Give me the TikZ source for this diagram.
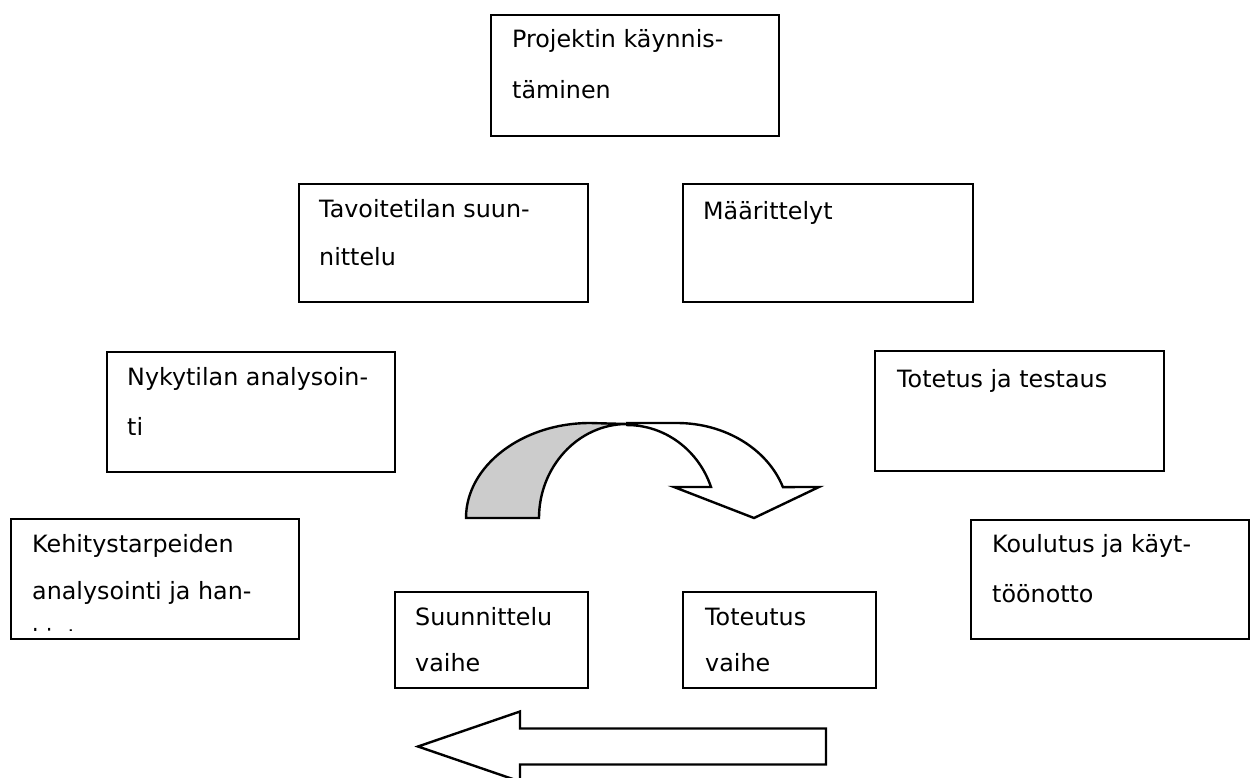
\documentclass[tikz,border=0pt]{standalone}
\usepackage{fontspec}
\setmainfont{DejaVu Sans}
\newcommand\firstline{\rule{0pt}{30pt}}
\begin{document}
\begin{tikzpicture}[x=1pt, y=-1pt,
  box/.style={draw=black, line width=2.4pt, inner sep=0pt, anchor=north west},
  txt/.style={anchor=north west, inner sep=0pt, align=left},
  fnt/.style={font=\fontsize{23.8}{#1}\selectfont},
  blockarrow/.style={draw=black, line width=2.4pt, line join=miter},
]
\useasboundingbox (0,0) rectangle (1250,778);

% phase boxes
\node[box, minimum width=288, minimum height=121] (b1) at (490,14) {};
\node[box, minimum width=289, minimum height=118] (b2) at (298,183) {};
\node[box, minimum width=290, minimum height=118] (b3) at (682,183) {};
\node[box, minimum width=288, minimum height=120] (b4) at (106,351) {};
\node[box, minimum width=289, minimum height=120] (b5) at (874,350) {};
\node[box, minimum width=288, minimum height=120] (b6) at (10,518) {};
\node[box, minimum width=278, minimum height=119] (b7) at (970,519) {};
\node[box, minimum width=193, minimum height=96] (b8) at (394,591) {};
\node[box, minimum width=193, minimum height=96] (b9) at (682,591) {};

% box texts
\node[txt, fnt=51] (t1) at (512,17) {\firstline Projektin käynnis-\\täminen};
\node[txt, fnt=48] (t2) at (319,187) {\firstline Tavoitetilan suun-\\nittelu};
\node[txt, fnt=48] (t3) at (703,189) {\firstline Määrittelyt};
\node[txt, fnt=50] (t4) at (127,355) {\firstline Nykytilan analysoin-\\ti};
\node[txt, fnt=48] (t5) at (897,357) {\firstline Totetus ja testaus};
% the last line of this box is cut off by the text area
\begin{scope}
  \clip (b6.north west) rectangle (298,630);
  \node[txt, fnt=47] (t6) at (32,522) {\firstline Kehitystarpeiden\\analysointi ja han-\\kinta};
\end{scope}
\node[txt, fnt=50] (t7) at (992,522) {\firstline Koulutus ja käyt-\\töönotto};
\node[txt, fnt=46] (t8) at (415,595) {\firstline Suunnittelu\\vaihe};
\node[txt, fnt=46] (t9) at (705,595) {\firstline Toteutus\\vaihe};

% curved arrow: shaded back part
\filldraw[blockarrow, fill=black!20]
  (466,518) .. controls (466,466) and (522,423) .. (590,423)
  -- (627,424) .. controls (578,424) and (539,467) .. (539,518) -- cycle;
% curved arrow: front part with head
\filldraw[blockarrow, fill=white]
  (627,423) -- (677,423)
  arc[start angle=90, end angle=19, x radius=112pt, y radius=95pt]
  -- (819,487) -- (754,518) -- (674,487) -- (711,487)
  arc[start angle=19.5, end angle=90, x radius=89pt, y radius=93pt]
  -- cycle;

% straight block arrow pointing left
\filldraw[blockarrow, fill=white]
  (418,746.5) -- (520,711.5) -- (520,728.5) -- (826,728.5)
  -- (826,764.5) -- (520,764.5) -- (520,781.5) -- cycle;
\end{tikzpicture}
\end{document}
